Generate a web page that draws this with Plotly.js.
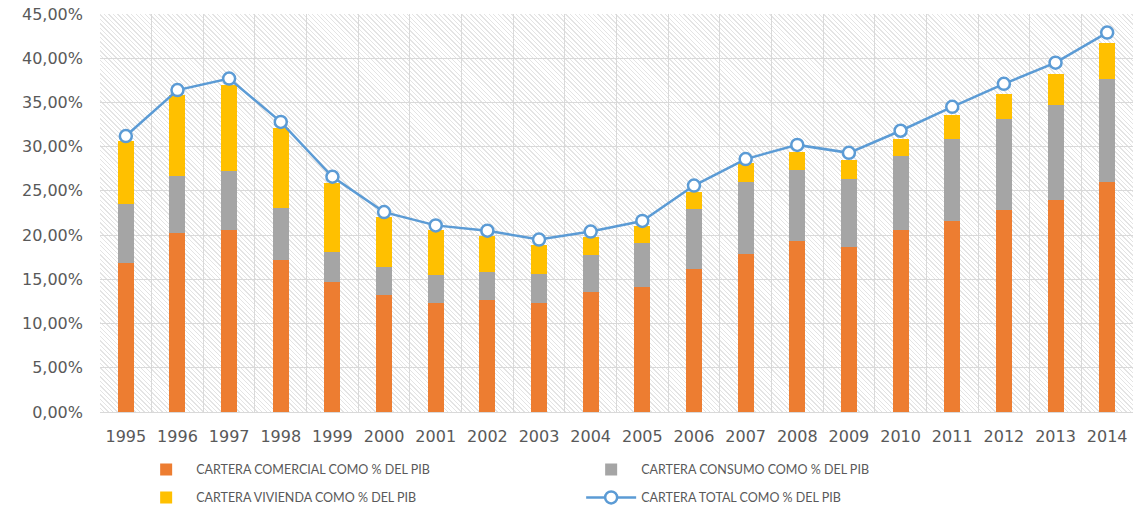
<!DOCTYPE html>
<html>
<head>
<meta charset="utf-8">
<script src="https://cdn.plot.ly/plotly-3.0.1.min.js"></script>
<style>
  html, body { margin: 0; padding: 0; background: #ffffff; }
  #wrap { position: relative; width: 1134px; height: 510px; }
  #hatch {
    position: absolute; left: 100px; top: 14px; width: 1033px; height: 398px;
    background: repeating-linear-gradient(45deg, #ffffff 0px, #ffffff 2.2px, #e4e4e4 2.2px, #e4e4e4 3.2px);
  }
  #chart { position: absolute; left: 0; top: 0; width: 1134px; height: 510px; }
</style>
</head>
<body>
<div id="wrap">
  <div id="hatch"></div>
  <div id="chart"></div>
</div>
<script>
const years = ['1995','1996','1997','1998','1999','2000','2001','2002','2003','2004',
               '2005','2006','2007','2008','2009','2010','2011','2012','2013','2014'];
// segment values (fractions of GDP)
const comercial = [0.168,0.202,0.206,0.172,0.147,0.132,0.123,0.127,0.123,0.136,
                   0.141,0.162,0.179,0.193,0.187,0.206,0.216,0.228,0.240,0.260];
const consumo   = [0.067,0.065,0.067,0.059,0.034,0.032,0.032,0.031,0.033,0.042,
                   0.050,0.068,0.081,0.081,0.077,0.083,0.093,0.103,0.107,0.117];
const vivienda  = [0.071,0.091,0.097,0.090,0.078,0.057,0.051,0.041,0.033,0.0195,
                   0.019,0.019,0.021,0.020,0.021,0.020,0.027,0.029,0.035,0.040];
const total     = [0.312,0.364,0.377,0.328,0.266,0.226,0.211,0.205,0.195,0.204,
                   0.216,0.256,0.286,0.302,0.293,0.318,0.345,0.371,0.395,0.429];

const tickVals = [0,0.05,0.10,0.15,0.20,0.25,0.30,0.35,0.40,0.45];

const legendFont = {family: 'Lato, Liberation Sans, sans-serif', size: 12.5, color: '#595959'};

const traces = [
  {type: 'bar', name: 'CARTERA COMERCIAL COMO % DEL PIB', x: years, y: comercial,
   marker: {color: '#ED7D31'}, legend: 'legend'},
  {type: 'bar', name: 'CARTERA CONSUMO COMO % DEL PIB', x: years, y: consumo,
   marker: {color: '#A5A5A5'}, legend: 'legend'},
  {type: 'bar', name: 'CARTERA VIVIENDA COMO % DEL PIB', x: years, y: vivienda,
   marker: {color: '#FFC000'}, legend: 'legend2'},
  {type: 'scatter', mode: 'lines+markers', name: 'CARTERA TOTAL COMO % DEL PIB', x: years, y: total,
   line: {color: '#5B9BD5', width: 2.5},
   marker: {symbol: 'circle', size: 12, color: '#ffffff', line: {color: '#5B9BD5', width: 2.5}},
   legend: 'legend2'}
];

const legendCommon = {
  orientation: 'h', x: 0.035, xanchor: 'left', yanchor: 'top',
  font: legendFont, entrywidth: 380, entrywidthmode: 'pixels',
  traceorder: 'normal', bgcolor: 'rgba(0,0,0,0)', itemwidth: 50
};

const layout = {
  width: 1134, height: 510,
  margin: {l: 100, r: 1, t: 14, b: 98, autoexpand: false},
  paper_bgcolor: 'rgba(0,0,0,0)',
  plot_bgcolor: 'rgba(0,0,0,0)',
  separators: ',.',
  barmode: 'stack',
  bargap: 0.69,
  font: {family: 'DejaVu Sans, sans-serif', size: 16, color: '#595959'},
  xaxis: {
    type: 'category', range: [-0.5, years.length - 0.5], autorange: false,
    tickson: 'boundaries', showgrid: true, gridcolor: '#d9d9d9', gridwidth: 1,
    showline: true, linecolor: '#d9d9d9', ticks: '', tickangle: 0, automargin: false,
    ticklabelstandoff: 10,
    tickfont: {family: 'DejaVu Sans, sans-serif', size: 16, color: '#595959'},
    fixedrange: true
  },
  yaxis: {
    range: [0, 0.45], tickvals: tickVals, tickformat: '.2%', automargin: false,
    showgrid: true, gridcolor: '#d9d9d9', gridwidth: 1, zeroline: false,
    showline: false, ticks: '', ticklabelstandoff: 16,
    tickfont: {family: 'DejaVu Sans, sans-serif', size: 16, color: '#595959'},
    fixedrange: true
  },
  showlegend: true,
  legend: Object.assign({}, legendCommon, {y: -0.108}),
  legend2: Object.assign({}, legendCommon, {y: -0.178})
};

Plotly.newPlot('chart', traces, layout, {displayModeBar: false, staticPlot: true});
</script>
</body>
</html>
